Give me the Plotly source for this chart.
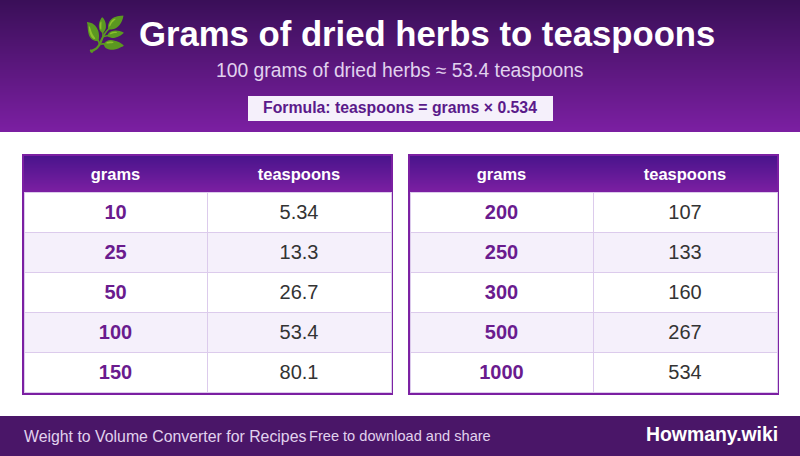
import plotly.graph_objects as go

W, H = 800, 456
title = "Grams of dried herbs to teaspoons"
subtitle = "100 grams of dried herbs ≈ 53.4 teaspoons"
formula = "Formula: teaspoons = grams × 0.534"
footer_left = "Weight to Volume Converter for Recipes"
footer_mid = "Free to download and share"
footer_right = "Howmany.wiki"
columns = ["grams", "teaspoons"]
grams_left = ["10", "25", "50", "100", "150"]
tsp_left = ["5.34", "13.3", "26.7", "53.4", "80.1"]
grams_right = ["200", "250", "300", "500", "1000"]
tsp_right = ["107", "133", "160", "267", "534"]

FONT = "Liberation Sans, Arial, sans-serif"
PURPLE = "#7b1fa2"
DARK = "#4a148c"
TOPC = "#3a0f58"
MIDC = "#4a1668"
TINT = "#f5f0fb"
LINE = "#dccbec"
VALC = "#333333"
NUMC = "#6a1b8e"
CLEAR = "rgba(0,0,0,0)"


def hx(c):
    return tuple(int(c[i:i + 2], 16) for i in (1, 3, 5))


def mix(a, b, t):
    a, b = hx(a), hx(b)
    return "rgb(%d,%d,%d)" % tuple(round(a[i] + (b[i] - a[i]) * t) for i in range(3))


def rect(x0, y0, x1, y1, color):
    return dict(type="rect", xref="paper", yref="paper", x0=x0 / W, x1=x1 / W,
                y0=1 - y0 / H, y1=1 - y1 / H, fillcolor=color, line_width=0, layer="below")


def label(x, y, text, size, color, bold=False, anchor="center", family=FONT):
    return dict(xref="paper", yref="paper", x=x / W, y=1 - y / H, text=f"<b>{text}</b>" if bold else text,
                showarrow=False, xanchor=anchor, yanchor="middle", align=anchor,
                font=dict(size=size, color=color, family=family), borderpad=0, borderwidth=0)


shapes = []
for i in range(132):
    shapes.append(rect(0, i, W, i + 1.5 if i < 131 else 132, mix(TOPC, PURPLE, i / 131)))
shapes.append(rect(248, 96, 553, 121, TINT))
shapes.append(rect(0, 416, W, H, MIDC))

panels = [(22, 393, grams_left, tsp_left), (408, 779, grams_right, tsp_right)]
fig = go.Figure()
annotations = [
    label(105, 34, "🌿", 34, "#fff", family="Noto Color Emoji"),
    label(427, 34, title, 34.7, "#fff", True),
    label(400, 70, subtitle, 19.3, "#e1d2ee"),
    label(400, 108, formula, 15.8, "#5a1a8a", True),
    label(24, 436, footer_left, 15.85, "#e1d2ee", anchor="left"),
    label(309, 436, footer_mid, 14.6, "#e1d2ee", anchor="left"),
    label(778, 434, footer_right, 19.4, "#ffffff", True, anchor="right"),
]
for x0, x1, g, t in panels:
    shapes.append(rect(x0, 154, x1, 395, PURPLE))
    for i in range(36):
        shapes.append(rect(x0 + 2, 156 + i, x1 - 2, 156 + i + 1.5 if i < 35 else 192, mix(DARK, PURPLE, i / 35)))
    # backing table: row fills and grid lines
    fig.add_trace(go.Table(
        domain=dict(x=[(x0 + 2) / W, (x1 - 2) / W], y=[1 - 393 / H, 1 - 156 / H]),
        columnwidth=[183, 184],
        header=dict(values=["", ""], height=36, fill=dict(color=CLEAR), line=dict(color=CLEAR, width=0)),
        cells=dict(values=[[""] * len(g), [""] * len(t)], height=40,
                   fill=dict(color=[["#ffffff", TINT, "#ffffff", TINT, "#ffffff"]] * 2),
                   line=dict(color=LINE, width=1)),
    ))
    # text table, offset so that the labels sit centred in the rows
    fig.add_trace(go.Table(
        domain=dict(x=[(x0 + 2) / W, (x1 - 2) / W], y=[1 - 397 / H, 1 - 160 / H]),
        columnwidth=[183, 184],
        header=dict(values=columns, height=36, align="center",
                    fill=dict(color=CLEAR), line=dict(color=CLEAR, width=0),
                    font=dict(family=FONT, size=16.5, color="#ffffff", weight="bold")),
        cells=dict(values=[g, t], height=40, align="center",
                   fill=dict(color=CLEAR), line=dict(color=CLEAR, width=0),
                   font=dict(family=FONT, size=20, color=[NUMC, VALC], weight=["bold", "normal"])),
    ))

fig.update_layout(width=W, height=H, margin=dict(l=0, r=0, t=0, b=0), paper_bgcolor="#ffffff",
                  shapes=shapes, annotations=annotations, showlegend=False)
fig.write_html("out.html", config=dict(displayModeBar=False),
               post_script="document.body.style.margin='0';document.body.style.overflow='hidden';")
